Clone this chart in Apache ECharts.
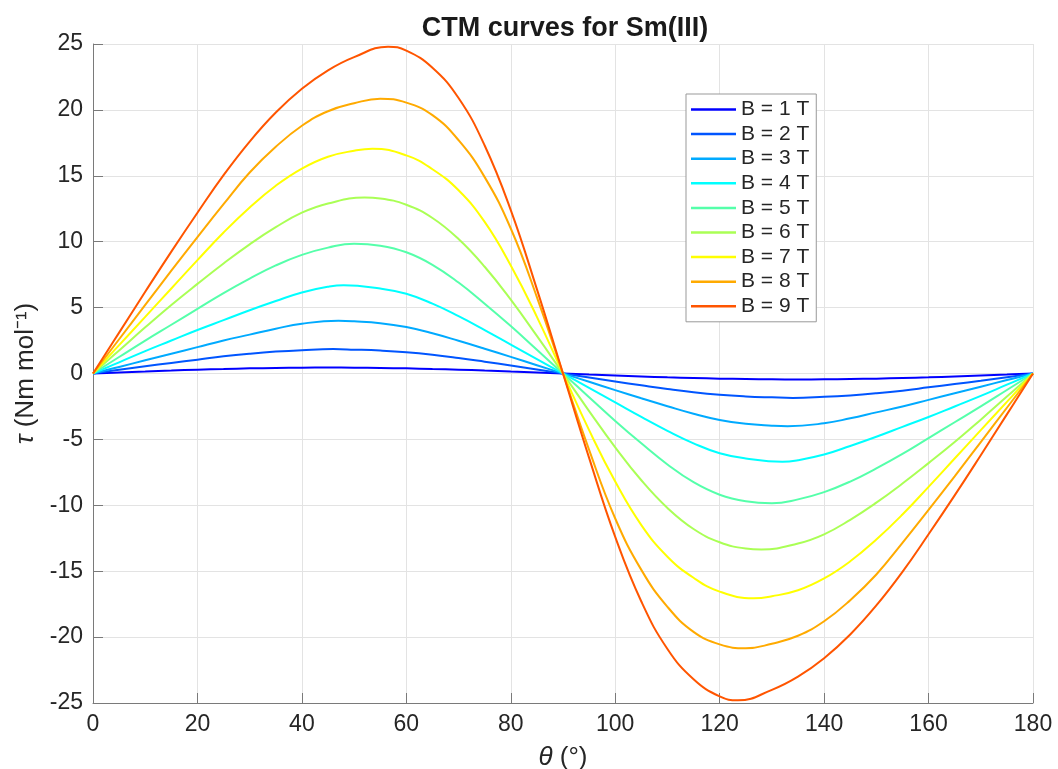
<!DOCTYPE html>
<html>
<head>
<meta charset="utf-8">
<script src="https://cdn.jsdelivr.net/npm/echarts@6/dist/echarts.min.js"></script>
<style>html,body{margin:0;padding:0;background:#fff;}#c{width:1058px;height:769px;}</style>
</head>
<body>
<div id="c"></div>
<script>
const theta = [0,5,10,15,20,25,30,35,40,45,50,55,60,65,70,75,80,85,90,95,100,105,110,115,120,125,130,135,140,145,150,155,160,165,170,175,180];
const seriesNames = ['B = 1 T','B = 2 T','B = 3 T','B = 4 T','B = 5 T','B = 6 T','B = 7 T','B = 8 T','B = 9 T'];
const colors = ['#0000ff','#0055ff','#00aaff','#00ffff','#55ffaa','#aaff55','#ffff00','#ffaa00','#ff5500'];
const tauB1 = [0,0.08,0.15,0.22,0.29,0.34,0.39,0.42,0.44,0.45,0.44,0.42,0.39,0.34,0.29,0.22,0.15,0.08,0,
  -0.08,-0.15,-0.22,-0.29,-0.34,-0.39,-0.42,-0.44,-0.45,-0.44,-0.42,-0.39,-0.34,-0.29,-0.22,-0.15,-0.08,0];
const tauB2 = [0,0.28,0.55,0.8,1.05,1.3,1.5,1.66,1.77,1.84,1.81,1.74,1.62,1.43,1.18,0.9,0.61,0.31,0,
  -0.31,-0.61,-0.9,-1.18,-1.43,-1.62,-1.74,-1.81,-1.84,-1.77,-1.66,-1.5,-1.3,-1.05,-0.8,-0.55,-0.28,0];
const tauB3 = [0,0.5,1.0,1.5,2.0,2.5,2.95,3.4,3.78,3.98,3.96,3.82,3.52,3.05,2.48,1.88,1.26,0.63,0,
  -0.63,-1.26,-1.88,-2.48,-3.05,-3.52,-3.82,-3.96,-3.98,-3.78,-3.4,-2.95,-2.5,-2.0,-1.5,-1.0,-0.5,0];
const tauB4 = [0,0.85,1.7,2.5,3.3,4.05,4.8,5.5,6.15,6.58,6.68,6.45,6.05,5.3,4.35,3.3,2.2,1.1,0,
  -1.1,-2.2,-3.3,-4.35,-5.3,-6.05,-6.45,-6.68,-6.58,-6.15,-5.5,-4.8,-4.05,-3.3,-2.5,-1.7,-0.85,0];
const tauB5 = [0,1.25,2.5,3.7,4.9,6.1,7.2,8.2,9.0,9.55,9.85,9.7,9.2,8.25,6.9,5.3,3.6,1.8,0,
  -1.8,-3.6,-5.3,-6.9,-8.25,-9.2,-9.7,-9.85,-9.55,-9.0,-8.2,-7.2,-6.1,-4.9,-3.7,-2.5,-1.25,0];
const tauB6 = [0,1.75,3.5,5.2,6.8,8.35,9.8,11.1,12.2,12.9,13.3,13.28,12.8,11.8,10.2,8.1,5.6,2.85,0,
  -2.85,-5.6,-8.1,-10.2,-11.8,-12.8,-13.28,-13.3,-12.9,-12.2,-11.1,-9.8,-8.35,-6.8,-5.2,-3.5,-1.75,0];
const tauB7 = [0,2.15,4.3,6.45,8.6,10.7,12.6,14.25,15.55,16.45,16.9,17.02,16.55,15.5,13.9,11.5,8.2,4.3,0,
  -4.3,-8.2,-11.5,-13.9,-15.5,-16.55,-17.02,-16.9,-16.45,-15.55,-14.25,-12.6,-10.7,-8.6,-6.45,-4.3,-2.15,0];
const tauB8 = [0,2.6,5.2,7.8,10.35,12.85,15.25,17.2,18.8,19.9,20.5,20.85,20.55,19.6,17.7,14.9,11.0,5.8,0,
  -5.8,-11.0,-14.9,-17.7,-19.6,-20.55,-20.85,-20.5,-19.9,-18.8,-17.2,-15.25,-12.85,-10.35,-7.8,-5.2,-2.6,0];
const tauB9 = [0,3.1,6.2,9.25,12.2,15.05,17.6,19.8,21.6,23.0,24.0,24.72,24.5,23.2,20.9,17.3,12.4,6.4,0,
  -6.4,-12.4,-17.3,-20.9,-23.2,-24.5,-24.72,-24.0,-23.0,-21.6,-19.8,-17.6,-15.05,-12.2,-9.25,-6.2,-3.1,0];
// maxima and minima (angle, torque)
const peakTheta = [45, 46, 47, 48, 50, 52, 53.5, 55, 56.5];
const peakTau = [0.45, 1.85, 4.0, 6.7, 9.85, 13.35, 17.05, 20.85, 24.8];
const troughTheta = [135, 134, 133, 132, 130, 128, 126.5, 125, 123.5];
const troughTau = [-0.45, -1.85, -4.0, -6.7, -9.85, -13.35, -17.05, -20.85, -24.8];
const allTau = [tauB1,tauB2,tauB3,tauB4,tauB5,tauB6,tauB7,tauB8,tauB9];

const FONT = '"Liberation Sans", Arial, Helvetica, sans-serif';
const chart = echarts.init(document.getElementById('c'), null, {renderer:'canvas'});

function buildData(i) {
  const pts = theta.map((t, k) => [t, allTau[i][k]])
    .filter(p => Math.abs(p[0] - peakTheta[i]) > 2.1 && Math.abs(p[0] - troughTheta[i]) > 2.1);
  pts.push([peakTheta[i], peakTau[i]]);
  pts.push([troughTheta[i], troughTau[i]]);
  pts.sort((a, b) => a[0] - b[0]);
  return pts;
}

const series = allTau.map((arr, i) => ({
  name: seriesNames[i],
  type: 'line',
  data: buildData(i),
  smooth: 0.45,
  symbol: 'none',
  lineStyle: {color: colors[i], width: 2},
  itemStyle: {color: colors[i]},
  z: 2 + i
}));
chart.setOption({
  animation: false,
  backgroundColor: '#ffffff',
  title: {
    text: 'CTM curves for Sm(III)',
    left: 560, top: 10, textAlign: 'center',
    textStyle: {fontFamily: FONT, fontSize: 27, fontWeight: 'bold', color: '#1a1a1a'}
  },
  grid: {left: 93, right: 25, top: 44, bottom: 66, containLabel: false, outerBoundsMode: 'none'},
  legend: {
    orient: 'vertical', left: 686, top: 94,
    padding: [5, 7, 5, 5], itemGap: 3.6, itemWidth: 45, itemHeight: 2.5,
    icon: 'rect',
    backgroundColor: '#ffffff', borderColor: '#999999', borderWidth: 1,
    textStyle: {fontFamily: FONT, fontSize: 21, color: '#262626', lineHeight: 20},
    data: seriesNames
  },
  xAxis: {
    type: 'value', min: 0, max: 180, interval: 20,
    name: '{i|θ} (°)', nameLocation: 'middle', nameGap: 42,
    nameTextStyle: {fontFamily: FONT, fontSize: 26, color: '#262626',
      rich: {i: {fontFamily: FONT, fontSize: 26, fontStyle: 'italic', color: '#262626'}}},
    axisLine: {show: true, onZero: false, lineStyle: {color: '#7a7a7a', width: 1}},
    axisTick: {show: true, inside: true, length: 10, lineStyle: {color: '#7a7a7a'}},
    axisLabel: {fontFamily: FONT, fontSize: 23, color: '#262626', margin: 10},
    splitLine: {show: true, lineStyle: {color: '#e3e3e3', width: 1}}
  },
  yAxis: {
    type: 'value', min: -25, max: 25, interval: 5,
    name: '{i|τ} (Nm mol⁻¹)', nameLocation: 'middle', nameGap: 39, nameRotate: 90,
    nameTextStyle: {fontFamily: FONT, fontSize: 26, color: '#262626',
      rich: {i: {fontFamily: FONT, fontSize: 26, fontStyle: 'italic', color: '#262626'}}},
    axisLine: {show: true, onZero: false, lineStyle: {color: '#7a7a7a', width: 1}},
    axisTick: {show: true, inside: true, length: 10, lineStyle: {color: '#7a7a7a'}},
    axisLabel: {fontFamily: FONT, fontSize: 23, color: '#262626', margin: 10},
    splitLine: {show: true, lineStyle: {color: '#e3e3e3', width: 1}}
  },
  series: series
});
</script>
</body>
</html>
